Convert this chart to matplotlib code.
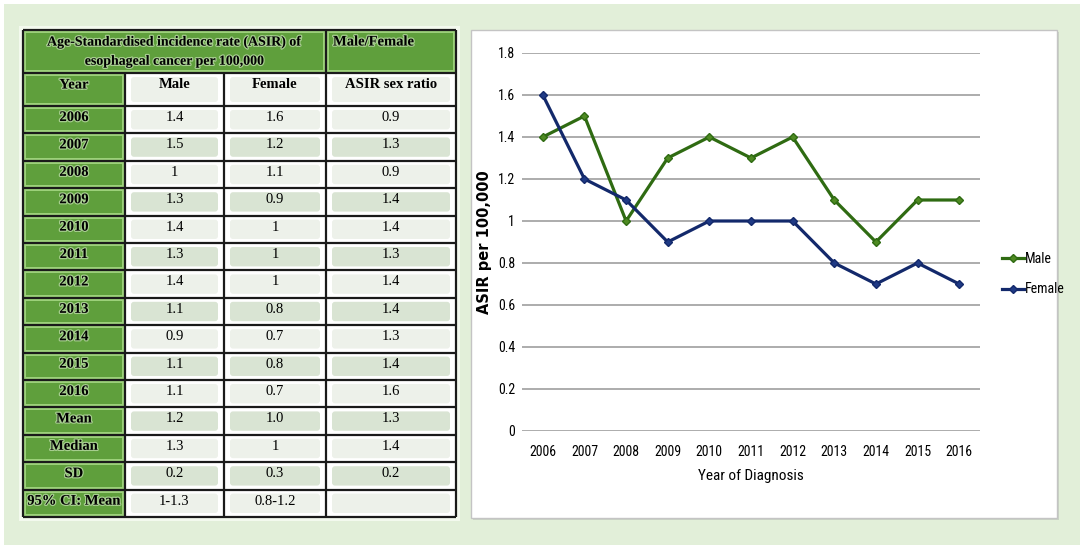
import matplotlib
matplotlib.use('Agg')
import matplotlib.pyplot as plt
from matplotlib.patches import Rectangle, FancyBboxPatch
import matplotlib.patheffects as pe

# data
years = [2006, 2007, 2008, 2009, 2010, 2011, 2012, 2013, 2014, 2015, 2016]
male = [1.4, 1.5, 1, 1.3, 1.4, 1.3, 1.4, 1.1, 0.9, 1.1, 1.1]
female = [1.6, 1.2, 1.1, 0.9, 1, 1, 1, 0.8, 0.7, 0.8, 0.7]
sex_ratio = [0.9, 1.3, 0.9, 1.4, 1.4, 1.3, 1.4, 1.4, 1.3, 1.4, 1.6]

stat_names = ['Mean', 'Median', 'SD', '95% CI: Mean']
stat_male = ['1.2', '1.3', '0.2', '1-1.3']
stat_female = ['1.0', '1', '0.3', '0.8-1.2']
stat_ratio = ['1.3', '1.4', '0.2', '']

header_title = 'Age-Standardised incidence rate (ASIR) of\nesophageal cancer per 100,000'
header_right = 'Male/Female'
col_names = ['Year', 'Male', 'Female', 'ASIR sex ratio']
y_ticks = [0, 0.2, 0.4, 0.6, 0.8, 1, 1.2, 1.4, 1.6, 1.8]

W, H = 1084, 549
fig = plt.figure(figsize=(W / 100, H / 100), dpi=100)
fig.patch.set_facecolor('white')

# background axes in pixel coords
bg = fig.add_axes([0, 0, 1, 1])
bg.set_xlim(0, W)
bg.set_ylim(H, 0)
bg.axis('off')
bg.add_patch(Rectangle((4, 4), W - 8, H - 8, facecolor='#e2efd9', edgecolor='none'))

# ---------- table ----------
serif = ['Liberation Serif', 'DejaVu Serif']
green = '#5f9f3c'
glow = [pe.withStroke(linewidth=1.8, foreground='#d6edc6', alpha=0.6)]
col_x = [23, 125, 224, 326, 456]
top, head_h, year_h = 30, 43, 33
body_top, body_bot = top + head_h + year_h, 517
n_rows = len(years) + len(stat_names)
row_h = (body_bot - body_top) / n_rows

bg.add_patch(Rectangle((col_x[0] - 4, top - 4), col_x[-1] - col_x[0] + 8, body_bot - top + 8,
                       facecolor='#f3f9ee', edgecolor='none'))


def green_cell(x0, x1, y0, y1):
    bg.add_patch(Rectangle((x0, y0), x1 - x0, y1 - y0, facecolor=green, edgecolor='none'))
    bg.add_patch(Rectangle((x0 + 2, y0 + 2), x1 - x0 - 4, y1 - y0 - 4, facecolor='none',
                           edgecolor='#9ed27c', lw=1.4))


def white_cell(x0, x1, y0, y1, dark):
    bg.add_patch(Rectangle((x0, y0), x1 - x0, y1 - y0, facecolor='white', edgecolor='none'))
    fc = '#d9e4d3' if dark else '#edf1ea'
    bg.add_patch(FancyBboxPatch((x0 + 6, y0 + 4), x1 - x0 - 12, y1 - y0 - 8,
                                boxstyle='round,pad=0,rounding_size=3',
                                facecolor=fc, edgecolor='none'))


def cell_text(x, y, s, bold=False, ha='center', fx=None, size=10.5, **kw):
    bg.text(x, y, s, ha=ha, va='center', fontsize=size, family=serif,
            fontweight='bold' if bold else 'normal', color='black', path_effects=fx, **kw)


# header row
green_cell(col_x[0], col_x[3], top, top + head_h)
green_cell(col_x[3], col_x[4], top, top + head_h)
cell_text((col_x[0] + col_x[3]) / 2, top + head_h / 2, header_title, bold=True, fx=glow,
          size=10, linespacing=1.6)
cell_text(col_x[3] + 7, top + 12, header_right, bold=True, ha='left', fx=glow)

# column names row
y0 = top + head_h
green_cell(col_x[0], col_x[1], y0, y0 + year_h)
cell_text((col_x[0] + col_x[1]) / 2, y0 + 12, col_names[0], bold=True, fx=glow)
for j in range(1, 4):
    white_cell(col_x[j], col_x[j + 1], y0, y0 + year_h, False)
    cell_text((col_x[j] + col_x[j + 1]) / 2, y0 + 12, col_names[j], bold=True)

rows = [(str(yr), f'{m:g}', f'{f:g}', f'{r:g}') for yr, m, f, r in zip(years, male, female, sex_ratio)]
rows += list(zip(stat_names, stat_male, stat_female, stat_ratio))
for i, row in enumerate(rows):
    ya = body_top + i * row_h
    yb = ya + row_h
    green_cell(col_x[0], col_x[1], ya, yb)
    cell_text((col_x[0] + col_x[1]) / 2, ya + row_h * 0.42, row[0], bold=True, fx=glow)
    for j in range(1, 4):
        white_cell(col_x[j], col_x[j + 1], ya, yb, i % 2 == 1)
        cell_text((col_x[j] + col_x[j + 1]) / 2, ya + row_h * 0.42, row[j])

# table lines
lw = 1.6
for x in col_x:
    y_start = top if x in (col_x[0], col_x[3], col_x[4]) else top + head_h
    bg.plot([x, x], [y_start, body_bot], color='#1a1a1a', lw=lw, solid_capstyle='butt')
hlines = [top, top + head_h, body_top] + [body_top + k * row_h for k in range(1, n_rows + 1)]
for y in hlines:
    bg.plot([col_x[0], col_x[-1]], [y, y], color='#1a1a1a', lw=lw, solid_capstyle='butt')

# ---------- chart panel ----------
bg.add_patch(Rectangle((473, 32), 586, 488, facecolor='#c9d3c4', edgecolor='none'))
bg.add_patch(Rectangle((471, 30), 586, 488, facecolor='white', edgecolor='#c4c4c4', lw=1))

narrow = ['Roboto Condensed', 'Roboto', 'DejaVu Sans']
ax_l, ax_r, ax_t, ax_b = 522, 980, 53, 431
ax = fig.add_axes([ax_l / W, 1 - ax_b / H, (ax_r - ax_l) / W, (ax_b - ax_t) / H])
ax.set_facecolor('none')
xs = list(range(len(years)))
ax.plot(xs, male, color='#2f6b12', lw=2.3, marker='D', ms=4.5, mfc='#4e8a22', mec='#2f6b12',
        label='Male', zorder=3)
ax.plot(xs, female, color='#13296b', lw=2.3, marker='D', ms=4.5, mfc='#1f3a85', mec='#13296b',
        label='Female', zorder=3)
ax.set_xlim(-0.5, len(years) - 0.5)
ax.set_ylim(0, 1.8)
ax.set_yticks(y_ticks)
ax.set_yticklabels([f'{v:g}' for v in y_ticks], family=narrow, fontsize=10)
ax.set_xticks(xs)
ax.set_xticklabels([str(y) for y in years], family=narrow, fontsize=10)
ax.tick_params(axis='x', length=0, pad=10)
ax.tick_params(axis='y', length=0, pad=5)
ax.grid(axis='y', color='#a6a6a6', lw=1.3)
ax.set_axisbelow(True)
for s in ax.spines.values():
    s.set_visible(False)
ax.set_xlabel('Year of Diagnosis', family=narrow, fontsize=11, labelpad=7)
ax.set_ylabel('ASIR per 100,000', fontsize=10.5, fontweight='bold', family='DejaVu Sans')
ax.yaxis.set_label_coords(-0.066, 0.5)
ax.legend(loc='center left', bbox_to_anchor=(1.02, 0.415), frameon=False,
          prop={'family': narrow, 'size': 10}, handlelength=1.6, handletextpad=0.1,
          labelspacing=1.2)

fig.savefig('out.png', dpi=100, facecolor=fig.get_facecolor())
